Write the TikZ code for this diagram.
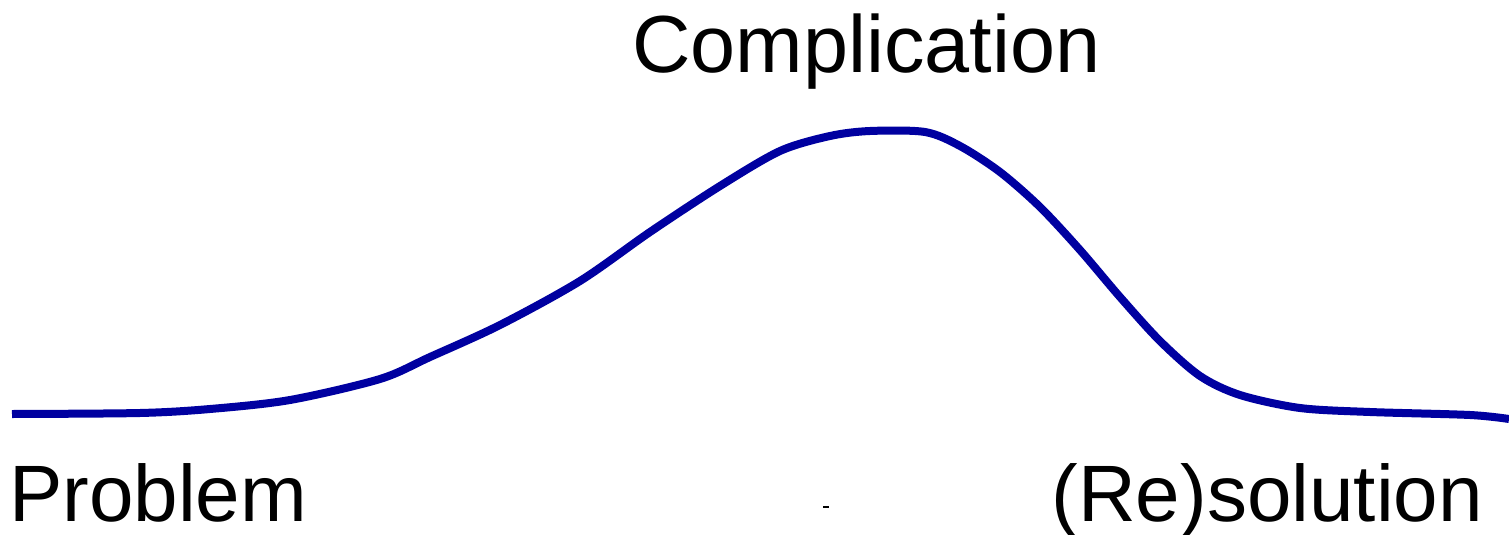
\documentclass[tikz,border=0pt]{standalone}
\usepackage{fontspec}
\setmainfont{Liberation Sans}
\definecolor{curveblue}{HTML}{0000A0}
\begin{document}
\begin{tikzpicture}[x=1pt,y=-1pt,
  lbl/.style={inner sep=0pt,font=\fontsize{80}{92}\selectfont,text=black},
  curve/.style={draw=curveblue,line width=8pt}]
\useasboundingbox (0,0) rectangle (1509,535);
\node[lbl,anchor=base west,font=\fontsize{81}{92}\selectfont] (comp) at (632,72) {Complication};
\node[lbl,anchor=base west] (prob) at (9,521) {Problem};
\node[lbl,anchor=base east] (res) at (1483,521) {(Re)solution};
\draw[curve] plot[smooth,tension=0.5] coordinates {
 (12,414) (140,413) (210,409) (290,400) (380,379) (430,357) (500,325)
 (580,281) (650,232) (720,186) (780,151) (830,136) (870,131) (925,132)
 (960,146) (1000,172) (1040,207) (1080,250) (1120,297) (1160,341)
 (1200,376) (1240,395) (1300,408) (1370,412) (1470,415) (1509,419)};
\fill[black] (823,506) rectangle (829,508);
\end{tikzpicture}
\end{document}
